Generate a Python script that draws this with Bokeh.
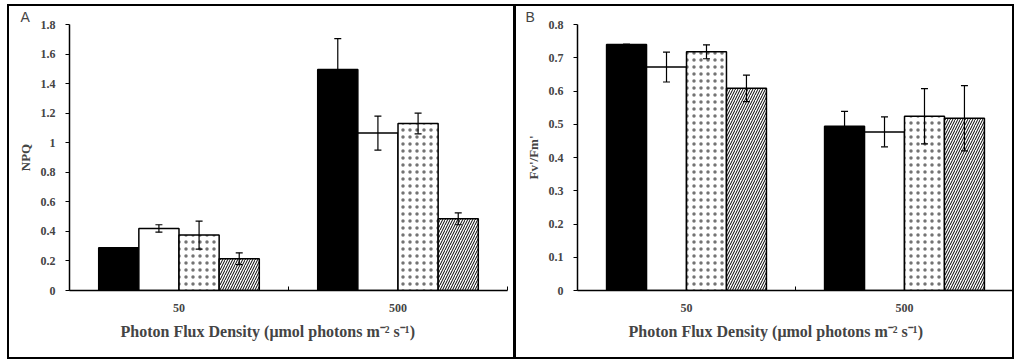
from bokeh.plotting import figure
from bokeh.layouts import row
from bokeh.models import (ColumnDataSource, Whisker, TeeHead, FixedTicker,
                          CustomJSTickFormatter, Title, Range1d)
from bokeh.embed import file_html
from bokeh.resources import INLINE

# ---------------- data ----------------
categories = ["50", "500"]
x_title = "Photon Flux Density (\u03bcmol photons m\u207b\u00b2 s\u207b\u00b9)"

# panel A : NPQ
npq_s1 = [0.29, 1.495]
npq_s1_err = [0.0, 0.21]
npq_s2 = [0.42, 1.065]
npq_s2_err = [0.025, 0.115]
npq_s3 = [0.375, 1.13]
npq_s3_err = [0.095, 0.07]
npq_s4 = [0.215, 0.485]
npq_s4_err = [0.04, 0.04]
npq_ticks = [0, 0.2, 0.4, 0.6, 0.8, 1.0, 1.2, 1.4, 1.6, 1.8]

# panel B : Fv'/Fm'
fv_s1 = [0.74, 0.494]
fv_s1_err = [0.0, 0.045]
fv_s2 = [0.672, 0.477]
fv_s2_err = [0.045, 0.045]
fv_s3 = [0.718, 0.524]
fv_s3_err = [0.021, 0.083]
fv_s4 = [0.608, 0.518]
fv_s4_err = [0.04, 0.098]
fv_ticks = [0, 0.1, 0.2, 0.3, 0.4, 0.5, 0.6, 0.7, 0.8]

# ---------------- styling ----------------
offsets = [-0.275, -0.0917, 0.0917, 0.275]
bar_w = 0.1833
SERIF = "Liberation Serif"


def bar_style(k):
    base = dict(line_color="black", line_width=1.5)
    if k == 0:
        base.update(fill_color="black")
    elif k == 1:
        base.update(fill_color="white")
    elif k == 2:
        base.update(fill_color="white", hatch_pattern="dot", hatch_scale=7,
                    hatch_weight=0.2, hatch_color="black", hatch_alpha=0.55)
    else:
        base.update(fill_color="white", hatch_pattern="right_diagonal_line",
                    hatch_scale=5, hatch_weight=1.0, hatch_color="black")
    return base


def border_css(lines):
    # lines: list of (x, y, w, h) rectangles painted as the panel frame
    imgs = ", ".join(["linear-gradient(#000, #000)"] * len(lines))
    pos = ", ".join(f"{x}px {y}px" for x, y, w, h in lines)
    size = ", ".join(f"{w}px {h}px" for x, y, w, h in lines)
    return {"background-image": imgs, "background-position": pos,
            "background-size": size, "background-repeat": "no-repeat"}


def make_panel(letter, letter_offset, ylabel, series, errs, ymax, yticks, width,
               min_left, min_right, border_lines):
    H = 361
    p = figure(width=width, height=H, output_backend="svg", toolbar_location=None,
               x_range=Range1d(0, 2), y_range=Range1d(0, ymax),
               min_border_left=min_left, min_border_right=min_right,
               min_border_top=24, min_border_bottom=71)
    p.outline_line_color = None
    p.border_fill_color = None
    p.background_fill_color = None
    p.xgrid.visible = False
    p.ygrid.visible = False
    p.styles = border_css(border_lines)

    for k, (vals, err) in enumerate(zip(series, errs)):
        xs = [i + 0.5 + offsets[k] for i in range(len(categories))]
        src = ColumnDataSource(dict(x=xs, top=vals,
                                    upper=[v + e for v, e in zip(vals, err)],
                                    lower=[v - e for v, e in zip(vals, err)]))
        p.vbar(x="x", top="top", width=bar_w, bottom=0, source=src, **bar_style(k))
        w = Whisker(base="x", upper="upper", lower="lower", source=src,
                    level="overlay", line_color="black", line_width=1.2,
                    upper_head=TeeHead(size=7, line_color="black", line_width=1.2),
                    lower_head=TeeHead(size=7, line_color="black", line_width=1.2))
        p.add_layout(w)

    # x axis
    xa = p.xaxis[0]
    xa.ticker = FixedTicker(ticks=[i + 0.5 for i in range(len(categories))],
                            minor_ticks=list(range(len(categories) + 1)))
    xa.major_label_overrides = {i + 0.5: c for i, c in enumerate(categories)}
    xa.major_tick_out = 0
    xa.major_tick_in = 0
    xa.minor_tick_in = 4
    xa.minor_tick_out = 0
    xa.axis_line_width = 1.5
    xa.major_label_standoff = 13
    xa.major_label_text_font = SERIF
    xa.major_label_text_font_style = "bold"
    xa.major_label_text_font_size = "12px"

    # y axis
    ya = p.yaxis[0]
    ya.ticker = FixedTicker(ticks=yticks, minor_ticks=[])
    ya.formatter = CustomJSTickFormatter(code="return (Math.round(tick*10)/10).toString();")
    ya.major_tick_out = 4
    ya.major_tick_in = 0
    ya.axis_line_width = 1.5
    ya.major_label_standoff = 10
    ya.major_label_text_font = SERIF
    ya.major_label_text_font_style = "bold"
    ya.major_label_text_font_size = "12px"
    ya.axis_label = ylabel
    ya.axis_label_text_font = SERIF
    ya.axis_label_text_font_style = "bold"
    ya.axis_label_text_font_size = "13px"
    ya.axis_label_standoff = 5

    p.add_layout(Title(text=x_title, align="left", offset=51, standoff=13, text_font=SERIF,
                       text_font_style="bold", text_font_size="16px"), "below")

    p.add_layout(Title(text=letter, align="left", offset=letter_offset, standoff=0,
                       text_font="Liberation Sans", text_font_style="normal",
                       text_font_size="14px"), "above")
    return p


pA = make_panel("A", -49, "NPQ", [npq_s1, npq_s2, npq_s3, npq_s4],
                [npq_s1_err, npq_s2_err, npq_s3_err, npq_s4_err],
                1.8, npq_ticks, 515, 69, 8,
                [(7, 4, 2, 355), (7, 4, 508, 2), (513, 4, 2, 355), (7, 357, 508, 2)])
pB = make_panel("B", -52, "Fv'/Fm'", [fv_s1, fv_s2, fv_s3, fv_s4],
                [fv_s1_err, fv_s2_err, fv_s3_err, fv_s4_err],
                0.8, fv_ticks, 499, 62, 1,
                [(0, 4, 1, 355), (0, 4, 499, 2), (497, 4, 2, 355), (0, 357, 499, 2)])

layout = row(pA, pB)
open("out.html", "w").write(file_html(layout, INLINE))
